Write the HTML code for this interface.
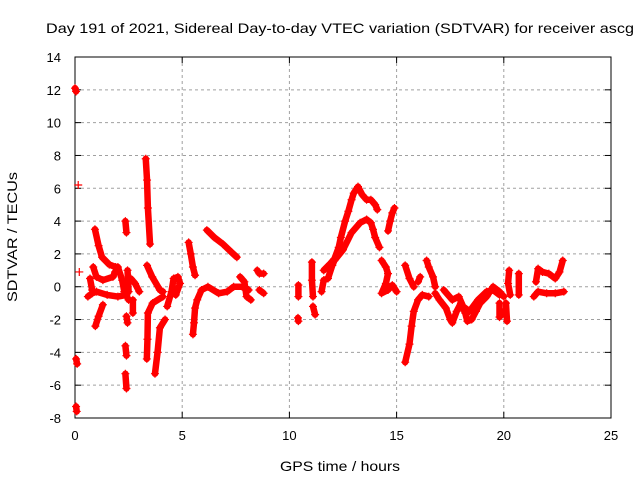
<!DOCTYPE html>
<html><head><meta charset="utf-8"><style>
body{margin:0;background:#fff;}
svg{display:block;font-family:"Liberation Sans",sans-serif;}
</style></head><body>
<svg id="chart" width="640" height="480" viewBox="0 0 640 480">
<rect width="640" height="480" fill="#fff"/>
<text x="46" y="33" font-size="14" textLength="588" lengthAdjust="spacingAndGlyphs" fill="#000">Day 191 of 2021, Sidereal Day-to-day VTEC variation (SDTVAR) for receiver ascg</text>
<g id="grid"></g>
<g id="axes"></g>
<g id="marks"></g>
<text x="17" y="237" font-size="14" text-anchor="middle" textLength="130" lengthAdjust="spacingAndGlyphs" transform="rotate(-90 17 237)">SDTVAR / TECUs</text>
<text x="340" y="471" font-size="14" text-anchor="middle" textLength="120" lengthAdjust="spacingAndGlyphs">GPS time / hours</text>
</svg>
<script>
const xTicks=[0,5,10,15,20,25];
const yTicks=[-8,-6,-4,-2,0,2,4,6,8,10,12,14];
const tracks=[
[[0,12.1],[0.05,11.9]],
[[0.05,-4.4],[0.1,-4.7]],
[[0.05,-7.3],[0.08,-7.6]],
[[0.15,6.2]],
[[0.2,0.9]],
[[0.93,3.5],[1.1,2.5],[1.26,1.8],[1.6,1.35],[1.9,1.2]],
[[0.85,1.2],[1.0,0.6],[1.3,0.4],[1.77,0.6],[1.87,0.9]],
[[0.6,-0.6],[0.8,-0.4],[1.0,-0.3],[1.5,-0.5],[2.0,-0.6],[2.4,-0.5]],
[[0.7,0.5],[0.8,-0.2]],
[[2.0,1.2],[2.2,0.4],[2.3,-0.3],[2.5,-0.8]],
[[1.3,-1.1],[1.1,-1.8],[0.95,-2.4]],
[[2.35,4.0],[2.4,3.3]],
[[2.45,1.0],[2.5,-0.3]],
[[2.4,-1.8],[2.45,-2.2]],
[[2.35,-3.6],[2.4,-4.2]],
[[2.35,-5.3],[2.4,-6.2]],
[[2.6,0.5],[2.8,0.2],[3.0,-0.3]],
[[2.7,-0.8],[2.7,-1.6]],
[[3.3,7.8],[3.36,6.5],[3.4,4.8],[3.5,2.6]],
[[3.36,1.3],[3.6,0.6],[3.96,-0.2],[4.1,-0.3]],
[[3.35,-4.4],[3.38,-3.2],[3.4,-1.6],[3.62,-1.0],[4.1,-0.6]],
[[3.73,-5.3],[3.85,-4.0],[3.96,-2.5],[4.2,-2.0]],
[[4.3,-1.2],[4.5,-0.3],[4.6,0.5],[4.8,0.6],[4.9,0.2],[4.7,-0.5]],
[[5.3,2.7],[5.4,2.0],[5.5,1.2],[5.6,0.7]],
[[5.5,-2.9],[5.55,-2.2],[5.6,-1.3],[5.7,-0.8],[5.9,-0.2],[6.2,0.0],[6.7,-0.4],[7.1,-0.3],[7.4,0.0],[7.8,0.0],[8.1,-0.2]],
[[7.7,0.6],[7.9,0.3],[8.0,-0.6],[8.2,-0.8]],
[[8.5,1.0],[8.6,0.8],[8.8,0.8]],
[[8.6,-0.2],[8.8,-0.4]],
[[6.15,3.45],[6.5,3.0],[6.9,2.6],[7.3,2.1],[7.55,1.8]],
[[10.42,0.1],[10.42,-0.6]],
[[10.4,-1.9],[10.42,-2.1]],
[[11.05,1.5],[11.05,0.4],[11.1,-0.6]],
[[11.1,-1.2],[11.2,-1.7]],
[[11.6,1.0],[11.9,1.4],[12.1,1.7],[12.3,2.4],[12.4,3.0],[12.6,4.0],[12.75,4.6],[12.9,5.3],[13.0,5.7],[13.2,6.1],[13.4,5.6],[13.6,5.3],[13.8,5.3],[14.0,5.0],[14.1,4.7]],
[[11.5,-0.3],[11.6,0.4],[11.8,0.5],[12.0,1.3],[12.1,1.6],[12.5,2.25],[12.9,3.3],[13.3,3.9],[13.6,4.1],[13.8,3.9],[13.9,3.5],[14.0,3.0],[14.2,2.4]],
[[14.3,1.6],[14.5,1.2],[14.6,0.8],[14.5,0.2],[14.3,-0.4],[14.6,-0.2],[14.8,0.1],[15.0,-0.3]],
[[14.6,3.4],[14.7,4.0],[14.8,4.5],[14.9,4.8]],
[[15.4,1.3],[15.6,0.5],[15.8,0.0]],
[[15.4,-4.6],[15.6,-3.5],[15.7,-2.4],[15.8,-1.5],[16.0,-0.8],[16.2,-0.5],[16.5,-0.6]],
[[16.1,0.6],[16.0,0.3]],
[[16.4,1.6],[16.5,1.2],[16.7,0.6],[16.8,0.0]],
[[16.8,-0.4],[17.0,-0.8],[17.3,-1.3],[17.5,-2.0],[17.6,-2.2],[17.8,-1.5],[18.0,-1.0],[18.2,-1.6],[18.3,-2.1],[18.5,-2.0],[18.7,-1.5],[18.9,-1.0],[19.2,-0.6],[19.5,0.0],[19.8,-0.3],[20.0,-0.6]],
[[17.2,-0.2],[17.6,-0.8],[17.9,-0.6],[18.1,-1.2],[18.4,-1.5],[18.8,-0.8],[19.2,-0.3],[19.5,-0.2],[19.8,-0.5]],
[[19.8,-1.0],[19.8,-1.85],[20.0,-1.5]],
[[20.25,1.0],[20.2,0.2],[20.3,-0.5]],
[[20.1,-1.0],[20.15,-2.1]],
[[20.7,0.8],[20.7,-0.5]],
[[21.5,0.3],[21.6,1.1],[21.8,0.9],[22.1,0.8],[22.4,0.5],[22.6,0.9],[22.75,1.6]],
[[21.4,-0.6],[21.6,-0.3],[22.0,-0.4],[22.4,-0.4],[22.8,-0.3]]
];
const X0=75,X1=611,Y0=418,Y1=57;
function xs(v){return X0+(v-0)/(25-0)*(X1-X0);}
function ys(v){return Y0-(v+8)/(14+8)*(Y0-Y1);}
const NS='http://www.w3.org/2000/svg';
function mk(t,a,p){const e=document.createElementNS(NS,t);for(const k in a)e.setAttribute(k,a[k]);p.appendChild(e);return e;}
const grid=document.getElementById('grid'),axes=document.getElementById('axes'),marks=document.getElementById('marks');
xTicks.forEach(t=>{
  const x=xs(t);
  if(t>0&&t<25){const g=mk('line',{x1:x,y1:Y1,x2:x,y2:Y0,stroke:'#a0a0a0','stroke-dasharray':'3,3'},grid);
  
  }
  mk('line',{x1:x,y1:Y0,x2:x,y2:Y0-6,stroke:'#000'},axes);
  mk('line',{x1:x,y1:Y1,x2:x,y2:Y1+6,stroke:'#000'},axes);
  const l=mk('text',{x:x,y:Y0+22,'font-size':13,'text-anchor':'middle'},axes);
  l.textContent=t;
  
  
});
yTicks.forEach(t=>{
  const y=ys(t);
  if(t>-8&&t<14){const g=mk('line',{x1:X0,y1:y,x2:X1,y2:y,stroke:'#a0a0a0','stroke-dasharray':'3,3'},grid);
  
  }
  mk('line',{x1:X0,y1:y,x2:X0+6,y2:y,stroke:'#000'},axes);
  mk('line',{x1:X1,y1:y,x2:X1-6,y2:y,stroke:'#000'},axes);
  const l=mk('text',{x:X0-14,y:y+5,'font-size':13,'text-anchor':'end'},axes);
  l.textContent=t;
  
  
});
const frame=mk('rect',{x:X0,y:Y1,width:X1-X0,height:Y0-Y1,fill:'none',stroke:'#000'},axes);


tracks.forEach(tr=>{
  const g=mk('g',{},marks);
  
  
  if(tr.length>1){
    mk('polyline',{points:tr.map(p=>xs(p[0])+','+ys(p[1])).join(' '),fill:'none',stroke:'#f00','stroke-width':6.5,'stroke-linejoin':'round','stroke-linecap':'round'},g);
  }
  tr.forEach(p=>{
    const x=xs(p[0]),y=ys(p[1]);
    const m=mk('path',{d:`M${x-4},${y}H${x+4}M${x},${y-4}V${y+4}`,stroke:'#f00','stroke-width':1.2},g);
    
    
  });
});
</script>
</body></html>
